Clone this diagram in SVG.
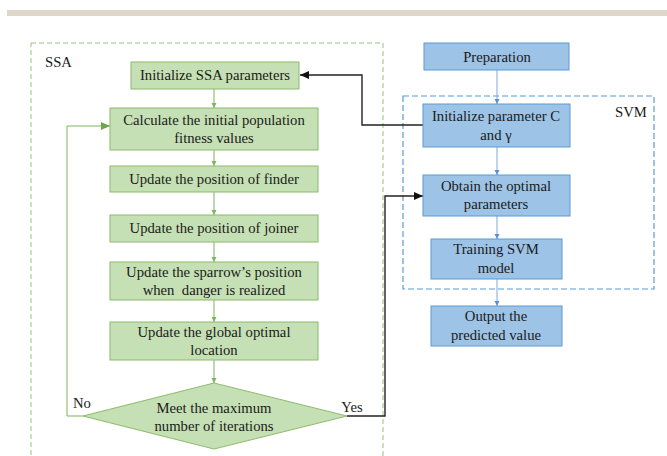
<svg xmlns="http://www.w3.org/2000/svg" width="667" height="456" viewBox="0 0 667 456">
<style>
text{font-family:"Liberation Serif","Times New Roman",serif;font-size:14.7px;fill:#1a1a1a;text-anchor:middle}
.lbl{text-anchor:start}
.g{fill:#c5e0b4;stroke:#8dba6c;stroke-width:1}
.b{fill:#9dc3e6;stroke:#5b9bd5;stroke-width:1}
.gl{fill:none;stroke:#7fb35c;stroke-width:1}
.bl{fill:none;stroke:#7ea6dc;stroke-width:1}
.kl{fill:none;stroke:#222;stroke-width:1.4}
</style>
<defs>
<marker id="ag" markerWidth="6" markerHeight="6" refX="5" refY="3" orient="auto" markerUnits="userSpaceOnUse"><path d="M0,0.5 L5,3 L0,5.5z" fill="#7fb35c"/></marker>
<marker id="agb" markerWidth="10" markerHeight="10" refX="9" refY="5" orient="auto" markerUnits="userSpaceOnUse"><path d="M0,1 L9,5 L0,9z" fill="#6aa84f"/></marker>
<marker id="ab" markerWidth="6" markerHeight="6" refX="5" refY="3" orient="auto" markerUnits="userSpaceOnUse"><path d="M0,0.5 L5,3 L0,5.5z" fill="#5b8fd5"/></marker>
<marker id="ak" markerWidth="10" markerHeight="10" refX="9" refY="5" orient="auto" markerUnits="userSpaceOnUse"><path d="M0,1 L9,5 L0,9z" fill="#111"/></marker>
</defs>
<rect x="7" y="10" width="660" height="6" fill="#ddd8c9"/>
<g id="ssa-frame">
<rect x="31" y="43" width="352" height="430" fill="none" stroke="#9cc37e" stroke-width="1" stroke-dasharray="5,3"/>
<text class="lbl" x="45" y="67">SSA</text>
</g>
<g id="svm-frame">
<rect x="403" y="96" width="251" height="193" fill="none" stroke="#5b9bd5" stroke-width="1.2" stroke-dasharray="6,3"/>
<text class="lbl" x="615" y="117">SVM</text>
</g>
<g id="connectors">
<line class="gl" x1="214" y1="89" x2="214" y2="108" marker-end="url(#ag)"/>
<line class="gl" x1="214" y1="150" x2="214" y2="166" marker-end="url(#ag)"/>
<line class="gl" x1="214" y1="192" x2="214" y2="215" marker-end="url(#ag)"/>
<line class="gl" x1="214" y1="242" x2="214" y2="262" marker-end="url(#ag)"/>
<line class="gl" x1="214" y1="300" x2="214" y2="322" marker-end="url(#ag)"/>
<line class="gl" x1="214" y1="360" x2="214" y2="383" marker-end="url(#ag)"/>
<polyline class="gl" points="83,416 67,416 67,126 110,126" stroke-width="1.2" marker-end="url(#agb)"/>
<polyline class="kl" points="347,416 385,416 385,196 423,196" marker-end="url(#ak)"/>
<polyline class="kl" points="423,125 362,125 362,75 300,75" marker-end="url(#ak)"/>
<line class="bl" x1="497" y1="70" x2="497" y2="104" marker-end="url(#ab)"/>
<line class="bl" x1="497" y1="147" x2="497" y2="175" marker-end="url(#ab)"/>
<line class="bl" x1="497" y1="216" x2="497" y2="239" marker-end="url(#ab)"/>
<line class="bl" x1="497" y1="279" x2="497" y2="306" marker-end="url(#ab)"/>
<text x="82" y="408">No</text>
<text x="352" y="412">Yes</text>
</g>
<g id="init-ssa"><rect class="g" x="131" y="62" width="168" height="27"/><text x="215" y="80">Initialize SSA parameters</text></g>
<g id="calc-fitness"><rect class="g" x="110" y="108" width="208" height="42"/><text x="214" y="125">Calculate the initial population</text><text x="214" y="143">fitness values</text></g>
<g id="update-finder"><rect class="g" x="110" y="166" width="208" height="26"/><text x="214" y="184">Update the position of finder</text></g>
<g id="update-joiner"><rect class="g" x="110" y="215" width="208" height="27"/><text x="214" y="233">Update the position of joiner</text></g>
<g id="update-sparrow"><rect class="g" x="110" y="262" width="208" height="38"/><text x="214" y="277">Update the sparrow’s position</text><text x="214" y="295" xml:space="preserve">when  danger is realized</text></g>
<g id="update-global"><rect class="g" x="110" y="322" width="208" height="38"/><text x="214" y="337">Update the global optimal</text><text x="214" y="355">location</text></g>
<g id="decision"><polygon class="g" points="214,383 347,416 214,449 83,416"/><text x="214" y="413">Meet the maximum</text><text x="214" y="431">number of iterations</text></g>
<g id="preparation"><rect class="b" x="424" y="43" width="145" height="27"/><text x="497" y="62">Preparation</text></g>
<g id="init-c"><rect class="b" x="423" y="104" width="147" height="43"/><text x="496" y="121">Initialize parameter C</text><text x="496" y="140">and γ</text></g>
<g id="obtain"><rect class="b" x="423" y="175" width="147" height="41"/><text x="496" y="191">Obtain the optimal</text><text x="496" y="209">parameters</text></g>
<g id="training"><rect class="b" x="431" y="239" width="131" height="40"/><text x="496" y="254">Training SVM</text><text x="496" y="273">model</text></g>
<g id="output"><rect class="b" x="431" y="306" width="131" height="40"/><text x="496" y="321">Output the</text><text x="496" y="340">predicted value</text></g>
</svg>
